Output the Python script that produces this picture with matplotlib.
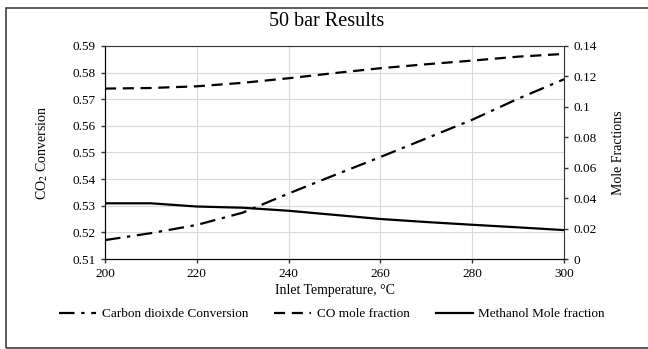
import matplotlib
matplotlib.use("Agg")
import matplotlib.pyplot as plt
from matplotlib.lines import Line2D
from matplotlib.patches import Rectangle

plt.rcParams["font.family"] = ["Liberation Serif", "DejaVu Serif"]
plt.rcParams["mathtext.fontset"] = "stix"

# 数据
temps = [200, 210, 220, 230, 240, 250, 260, 270, 280, 290, 300]
co2_conv = [0.5171, 0.5197, 0.5228, 0.5274, 0.5346, 0.5415, 0.5483, 0.5553, 0.5623, 0.5702, 0.5775]
co_frac = [0.1120, 0.1124, 0.1135, 0.1158, 0.1188, 0.1222, 0.1254, 0.1280, 0.1304, 0.1330, 0.1348]
meoh_frac = [0.0366, 0.0366, 0.0345, 0.0337, 0.0317, 0.0290, 0.0263, 0.0243, 0.0225, 0.0208, 0.0190]

fig = plt.figure(figsize=(6.48, 3.49), dpi=100)
ax = fig.add_axes([105 / 648, 1 - 259 / 349, (564 - 105) / 648, (259 - 46) / 349])
ax2 = ax.twinx()

# 外框（右边超出画面）
fig.patches.append(Rectangle((6 / 648, 1.5 / 349), 660 / 648, 339.5 / 349, transform=fig.transFigure,
                             fill=False, edgecolor="#404040", lw=1.2, clip_on=False))

ax.plot(temps, co2_conv, color="black", lw=1.6, dashes=[7, 3, 1.5, 3])
ax2.plot(temps, co_frac, color="black", lw=1.6, dashes=[5, 3])
ax2.plot(temps, meoh_frac, color="black", lw=1.6)

ax.set_xlim(200, 300)
ax.set_ylim(0.51, 0.59)
ax2.set_ylim(0, 0.14)
ax.set_xticks(range(200, 301, 20))
ax.set_yticks([0.51 + 0.01 * i for i in range(9)])
ax.set_yticklabels([f"{0.51 + 0.01 * i:.2f}" for i in range(9)])
ax2.set_yticks([0.02 * i for i in range(8)])
ax2.set_yticklabels(["0", "0.02", "0.04", "0.06", "0.08", "0.1", "0.12", "0.14"])

ax.grid(True, color="#d9d9d9", lw=0.8)
ax.set_axisbelow(True)
for a in (ax, ax2):
    a.spines["top"].set_visible(False)
    a.tick_params(labelsize=9.5, length=3, color="#333333", width=1)
ax2.spines["right"].set_color("#333333")
ax.spines["left"].set_color("#333333")
ax.spines["bottom"].set_color("#333333")
ax.spines["right"].set_visible(False)
ax.spines["top"].set_visible(True)
ax.spines["top"].set_color("#333333")

ax.set_ylabel("CO$_2$ Conversion", fontsize=10, labelpad=16)
ax2.set_ylabel("Mole Fractions", fontsize=10, labelpad=11)
ax.set_xlabel("Inlet Temperature, °C", fontsize=10, labelpad=3)
fig.text(327 / 648, 1 - 22 / 349, "50 bar Results", ha="center", va="center", fontsize=14.5)

handles = [
    Line2D([], [], color="black", lw=1.6, dashes=[7, 3, 1.5, 3]),
    Line2D([], [], color="black", lw=1.6, dashes=[5, 3]),
    Line2D([], [], color="black", lw=1.6),
]
labels = ["Carbon dioixde Conversion", "CO mole fraction", "Methanol Mole fraction"]
fig.legend(handles, labels, loc="center", bbox_to_anchor=(332 / 648, 1 - 314 / 349), ncol=3,
           frameon=False, fontsize=9.5, handlelength=2.8, columnspacing=2.0, handletextpad=0.4)

fig.savefig("out.png", dpi=100)
